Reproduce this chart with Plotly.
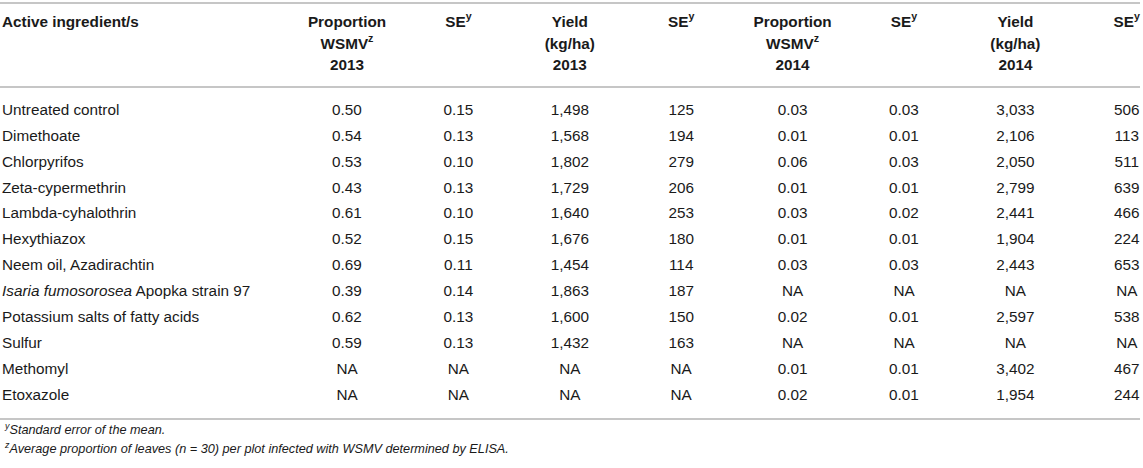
import plotly.graph_objects as go

# ---- data ----
INGREDIENTS = [
    "Untreated control", "Dimethoate", "Chlorpyrifos", "Zeta-cypermethrin",
    "Lambda-cyhalothrin", "Hexythiazox", "Neem oil, Azadirachtin",
    "<i>Isaria fumosorosea</i> Apopka strain 97", "Potassium salts of fatty acids",
    "Sulfur", "Methomyl", "Etoxazole",
]
PROP_2013 = [0.50, 0.54, 0.53, 0.43, 0.61, 0.52, 0.69, 0.39, 0.62, 0.59, None, None]
SE_PROP_2013 = [0.15, 0.13, 0.10, 0.13, 0.10, 0.15, 0.11, 0.14, 0.13, 0.13, None, None]
YIELD_2013 = [1498, 1568, 1802, 1729, 1640, 1676, 1454, 1863, 1600, 1432, None, None]
SE_YIELD_2013 = [125, 194, 279, 206, 253, 180, 114, 187, 150, 163, None, None]
PROP_2014 = [0.03, 0.01, 0.06, 0.01, 0.03, 0.01, 0.03, None, 0.02, None, 0.01, 0.02]
SE_PROP_2014 = [0.03, 0.01, 0.03, 0.01, 0.02, 0.01, 0.03, None, 0.01, None, 0.01, 0.01]
YIELD_2014 = [3033, 2106, 2050, 2799, 2441, 1904, 2443, None, 2597, None, 3402, 1954]
SE_YIELD_2014 = [506, 113, 511, 639, 466, 224, 653, None, 538, None, 467, 244]

HEADERS = [
    ["Proportion", "WSMV<sup>z</sup>", "2013"],
    ["SE<sup>y</sup>"],
    ["Yield", "(kg/ha)", "2013"],
    ["SE<sup>y</sup>"],
    ["Proportion", "WSMV<sup>z</sup>", "2014"],
    ["SE<sup>y</sup>"],
    ["Yield", "(kg/ha)", "2014"],
    ["SE<sup>y</sup>"],
]
FIRST_HEADER = "Active ingredient/s"
FOOTNOTES = [
    "<i><sup>y</sup>Standard error of the mean.</i>",
    "<i><sup>z</sup>Average proportion of leaves (n = 30) per plot infected with WSMV determined by ELISA.</i>",
]

# ---- layout helpers (pixel -> axis units) ----
W, H = 1143, 468
COL0_PX, COL_STEP = 347, 111.4
ROW0_PX, ROW_STEP = 111, 25.9


def ax_x(px):
    return 1 + (px - COL0_PX) / COL_STEP


def ax_y(px):
    return (px - ROW0_PX) / ROW_STEP


def fmt_prop(v):
    return "NA" if v is None else f"{v:.2f}"


def fmt_int(v):
    return "NA" if v is None else f"{v:,}"


TEXT = "#1a1a1a"
FONT = "Liberation Sans, Arial, sans-serif"
SIZE = 15.3

columns = [
    (PROP_2013, fmt_prop), (SE_PROP_2013, fmt_prop),
    (YIELD_2013, fmt_int), (SE_YIELD_2013, fmt_int),
    (PROP_2014, fmt_prop), (SE_PROP_2014, fmt_prop),
    (YIELD_2014, fmt_int), (SE_YIELD_2014, fmt_int),
]
rows = list(range(len(INGREDIENTS)))
tfont = dict(size=SIZE, color=TEXT, family=FONT)

fig = go.Figure()

# first column, left aligned
fig.add_trace(go.Scatter(
    x=[ax_x(2)] * len(rows), y=rows, text=INGREDIENTS, mode="text",
    textposition="middle right", textfont=tfont,
    hoverinfo="skip", showlegend=False, cliponaxis=False,
))

# numeric columns
for i, (vals, fmt) in enumerate(columns, start=1):
    fig.add_trace(go.Scatter(
        x=[i] * len(rows), y=rows, text=[fmt(v) for v in vals], mode="text",
        textposition="middle center", textfont=tfont,
        hoverinfo="skip", showlegend=False, cliponaxis=False,
    ))

# header
HEADER_LINE_PX = [23, 44.7, 66.4]
hx, hy, ht = [], [], []
for i, lines in enumerate(HEADERS, start=1):
    for j, line in enumerate(lines):
        hx.append(i)
        hy.append(ax_y(HEADER_LINE_PX[j]))
        ht.append("<b>" + line + "</b>")
fig.add_trace(go.Scatter(
    x=hx, y=hy, text=ht, mode="text", textposition="middle center",
    textfont=tfont, hoverinfo="skip", showlegend=False, cliponaxis=False,
))
fig.add_trace(go.Scatter(
    x=[ax_x(2)], y=[ax_y(HEADER_LINE_PX[0])], text=["<b>" + FIRST_HEADER + "</b>"],
    mode="text", textposition="middle right",
    textfont=tfont, hoverinfo="skip", showlegend=False, cliponaxis=False,
))

# footnotes
for note, px in zip(FOOTNOTES, [429, 448]):
    fig.add_annotation(
        x=ax_x(2), y=ax_y(px), text=note, showarrow=False, xanchor="left", yanchor="middle",
        font=dict(size=12.7, color=TEXT, family=FONT),
    )

# rules
for px in [3, 87, 419]:
    fig.add_shape(type="line", xref="paper", x0=0, x1=1140 / W, y0=ax_y(px), y1=ax_y(px),
                  line=dict(color="#b3b3b3", width=1.6))

fig.update_layout(
    width=W, height=H, margin=dict(l=0, r=0, t=0, b=0),
    paper_bgcolor="white", plot_bgcolor="white",
    xaxis=dict(range=[ax_x(0), ax_x(W)], visible=False, fixedrange=True),
    yaxis=dict(range=[ax_y(H), ax_y(0)], visible=False, fixedrange=True),
)

fig.write_html("out.html", config={"displayModeBar": False},
               post_script="document.body.style.margin='0';")
